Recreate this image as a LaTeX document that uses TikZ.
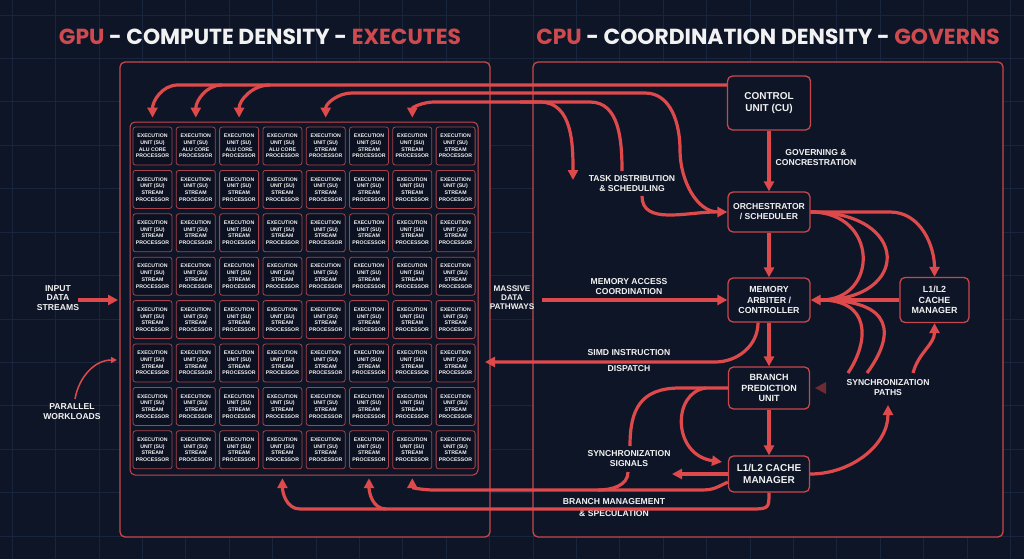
\documentclass[tikz,border=0pt]{standalone}
\usepackage{fontspec}
\setmainfont{Liberation Sans}
\newfontfamily\titlef{Poppins}
\usetikzlibrary{arrows.meta,calc}
\definecolor{bg}{HTML}{0E1526}
\definecolor{gridc}{HTML}{18253D}
\definecolor{ared}{HTML}{DE4A4C}
\definecolor{pred}{HTML}{C8474C}
\definecolor{cellred}{HTML}{A8434B}
\definecolor{cellfill}{HTML}{0B1120}
\definecolor{tred}{HTML}{CF4A4F}
\definecolor{dimred}{HTML}{6E2B33}
\definecolor{txt}{HTML}{F2F2F2}
\begin{document}
\begin{tikzpicture}[x=1pt,y=-1pt,
  gridline/.style={draw=gridc, line width=0.6pt},
  panel/.style={draw=pred, line width=1.3pt, rounded corners=5pt, fill=bg, inner sep=0pt},
  gridbox/.style={draw=pred, line width=1pt, rounded corners=5pt, inner sep=0pt},
  cell/.style={draw=cellred, line width=0.8pt, rounded corners=2.5pt, fill=cellfill,
    minimum width=39pt, minimum height=38pt, inner sep=0pt, text=txt, align=center,
    font=\bfseries\fontsize{5.2}{6.7}\selectfont},
  box/.style={draw=pred, line width=1.3pt, rounded corners=5pt, fill=bg, text=txt,
    align=center, inner sep=0pt, font=\bfseries},
  lbl/.style={text=txt, align=center, inner sep=0pt, font=\bfseries\fontsize{8.6}{10}\selectfont},
  arr/.style={draw=ared, line width=3.2pt, -{Triangle[length=10pt,width=10pt]}},
  ln/.style={draw=ared, line width=3.2pt},
  thinarr/.style={draw=ared, line width=1.5pt, -{Triangle[length=6pt,width=6pt]}},
  ttl/.style={text=txt, inner sep=0pt, font=\titlef\bfseries\fontsize{21.8}{24}\selectfont}]
\useasboundingbox (0,0) rectangle (1024,559);
\fill[bg] (0,0) rectangle (1024,559);
% background grid
\foreach \x in {12,55.4,...,1024} \draw[gridline] (\x,0) -- (\x,559);
\foreach \y in {15,58.4,...,559} \draw[gridline] (0,\y) -- (1024,\y);

% titles
\node[ttl] (t1) at (260,37) {\textcolor{tred}{GPU} - COMPUTE DENSITY - \textcolor{tred}{EXECUTES}};
\node[ttl] (t2) at (768,37) {\textcolor{tred}{CPU} - COORDINATION DENSITY - \textcolor{tred}{GOVERNS}};

% panels
\node[panel, minimum width=370pt, minimum height=475pt] (gpu) at (305,299.5) {};
\node[panel, minimum width=470pt, minimum height=475pt] (cpu) at (768,299.5) {};
\node[gridbox, minimum width=348pt, minimum height=353pt] (grid) at (304,298.5) {};

% cells
\foreach \r in {1,...,8} {
  \foreach \c in {1,...,8} {
    \node[cell] (c-\r-\c) at ({152.5+(\c-1)*43.3},{146+(\r-1)*43.4})
      {EXECUTION\\UNIT (SU)\\\ifnum\r=1 \ifnum\c<5 ALU CORE\else STREAM\fi\else STREAM\fi\\PROCESSOR};
  }
}

% CPU nodes
\node[box, minimum width=83pt, minimum height=54pt, font=\bfseries\fontsize{10}{11.7}\selectfont] (cu) at (769,103) {CONTROL\\UNIT (CU)};
\node[box, minimum width=82pt, minimum height=40pt, font=\bfseries\fontsize{8.6}{10}\selectfont] (orch) at (769,212) {ORCHESTRATOR\\/ SCHEDULER};
\node[box, minimum width=82pt, minimum height=44pt, font=\bfseries\fontsize{8.8}{10.2}\selectfont] (mem) at (769,300) {MEMORY\\ARBITER /\\CONTROLLER};
\node[box, minimum width=81pt, minimum height=42pt, font=\bfseries\fontsize{9}{10.3}\selectfont] (bpu) at (769,388) {BRANCH\\PREDICTION\\UNIT};
\node[box, minimum width=81pt, minimum height=36pt, font=\bfseries\fontsize{10}{12}\selectfont] (l12) at (769,474) {L1/L2 CACHE\\MANAGER};
\node[box, minimum width=69pt, minimum height=45pt, font=\bfseries\fontsize{8.9}{10.2}\selectfont] (rc) at (934.5,300) {L1/L2\\CACHE\\MANAGER};

% labels
\node[lbl] (gov) at (816,158) {GOVERNING \&\\CONCRESTRATION};
\node[lbl] (task) at (632,184) {TASK DISTRIBUTION\\\& SCHEDULING};
\node[lbl] (mac) at (629,287) {MEMORY ACCESS\\COORDINATION};
\node[lbl, font=\bfseries\fontsize{8.2}{9}\selectfont] (mdp) at (512,298) {MASSIVE\\DATA\\PATHWAYS};
\node[lbl] (simd1) at (629,353) {SIMD INSTRUCTION};
\node[lbl] (simd2) at (629,369) {DISPATCH};
\node[lbl] (ss) at (629,459) {SYNCHRONIZATION\\SIGNALS};
\node[lbl, font=\bfseries\fontsize{8.6}{12}\selectfont] (bm) at (614,508) {BRANCH MANAGEMENT\\\& SPECULATION};
\node[lbl] (sp) at (888,388) {SYNCHRONIZATION\\PATHS};
\node[lbl, font=\bfseries\fontsize{8.6}{9.6}\selectfont] (inp) at (58,298) {INPUT\\DATA\\STREAMS};
\node[lbl] (pw) at (72,412) {PARALLEL\\WORKLOADS};

% coordinates
\coordinate (busA) at (cu.west |- 0,85);
\coordinate (busB) at (560,93);
\coordinate (busC) at (520,102);
\coordinate (tdtip) at (573,180);
\coordinate (taskin) at (622,171);
\coordinate (taskout) at (642,196);
\coordinate (mdpout) at (542,300);
\coordinate (simdtip) at (485,362);
\coordinate (sptip) at (888,405);
\coordinate (memin) at ($(mem.east)+(10,0)$);
\coordinate (spa) at (848,373);
\coordinate (spb) at (867,373);
\coordinate (spc) at (913,373);
\coordinate (ssin) at (630,446);
\coordinate (ssout) at (628,472);
\coordinate (sstip) at (672,474);
\coordinate (l12nw) at (722,462);
\coordinate (inptail) at (78,300);
\coordinate (inptip) at (118,300);
\coordinate (pwtip) at (117,360);
\coordinate (pwtail) at (75,399);

% top distribution lines
\draw[arr] (busA) -- (178,85) to[out=180,in=90] ($(c-1-1.north)+(0,-9)$);
\draw[arr] (222,85) to[out=180,in=90] ($(c-1-2.north)+(0,-9)$);
\draw[arr] (270,85) to[out=180,in=90] ($(c-1-3.north)+(0,-9)$);
\draw[arr] (busB) -- (352,93) to[out=180,in=90] ($(c-1-5.north)+(0,-9)$);
\draw[arr] (busB) -- (645,93) to[out=0,in=90] (680,150) to[out=270,in=180] (orch.west);
\draw[arr] (busC) -- (434,102) to[out=180,in=90] ($(c-1-7.north)+(0,-9)$);
\draw[arr] (busC) -- (540,102) to[out=0,in=90] (tdtip);
\draw[ln] (busC) -- (590,102) to[out=0,in=90] (taskin);
\draw[ln] (taskout) to[out=270,in=180] ($(orch.west)+(-12,0)$);

% main vertical chain
\draw[arr] (cu) -- (orch);
\draw[arr] (orch) -- (mem);
\draw[arr] (mem) -- (bpu);
\draw[arr] (bpu) -- (l12);

% memory / cache links
\draw[arr] (mdpout) -- (mem.west);
\draw[arr] ($(mem.south)+(-11,0)$) to[out=270,in=0] (715,362) -- (simdtip);
\draw[ln] (orch.east) .. controls (879,212) and (879,300) .. (memin);
\draw[ln] (orch.east) .. controls (911,212) and (911,300) .. (memin);
\draw[ln] (spa) .. controls (870,340) and (870,300) .. (memin);
\draw[ln] (spb) .. controls (895,335) and (895,300) .. (memin);
\draw[arr] (rc.west) -- (mem.east);
\draw[arr] (orch.east) -- (890,212) to[out=0,in=90] (rc.north);
\draw[arr] (spc) to[out=75,in=270] (rc.south);
\draw[arr] (l12.east) to[out=0,in=270] (sptip);
\fill[dimred] (815,388) -- (826,382) -- (826,394) -- cycle;

% branch prediction / L1L2 links
\draw[ln] (bpu.west) -- (680,388) .. controls (640,388) and (630,410) .. (ssin);
\draw[arr] (706,388) .. controls (672,392) and (672,455) .. (l12nw);
\draw[arr] (l12.west) -- (sstip);
\draw[ln] (ssout) to[out=270,in=0] (598,490);
\draw[arr] ($(l12.west)+(0,8)$) .. controls (712,490) .. (695,490) -- (434,490) to[out=180,in=270] ($(c-8-7.south)+(0,9)$);
\draw[arr] (l12.south) .. controls (769,509) .. (748,509) -- (300,509) to[out=180,in=270] ($(c-8-4.south)+(0,9)$);
\draw[arr] (386,509) to[out=180,in=270] ($(c-8-6.south)+(0,9)$);

% left inputs
\draw[arr] (inptail) -- (inptip);
\draw[thinarr] (pwtail) to[out=80,in=180] (pwtip);
\end{tikzpicture}
\end{document}
